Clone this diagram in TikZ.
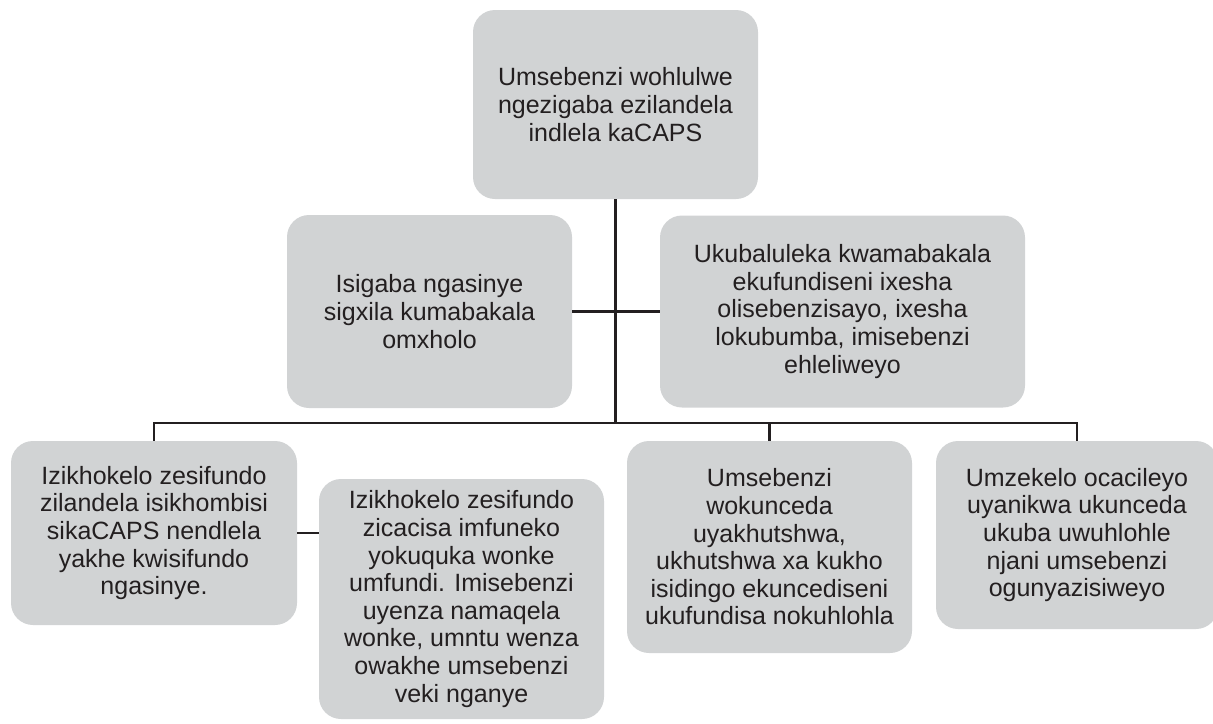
\documentclass[tikz,border=0pt]{standalone}
\usepackage{fontspec}
\setmainfont{Liberation Sans}
\definecolor{boxgray}{RGB}{209,211,212}
\definecolor{inkcol}{RGB}{35,31,32}
\tikzset{
  gbox/.style={rounded corners=22pt, fill=boxgray, inner sep=0pt, align=center,
    text=inkcol, font=\fontsize{25}{27.6}\selectfont,
    execute at begin node={\rule{0pt}{28pt}}},
  conn/.style={draw=inkcol, line width=2.6pt}
}
\begin{document}
\begin{tikzpicture}[x=1pt,y=-1pt]
\useasboundingbox (0,0) rectangle (1213,723);
\clip (0,0) rectangle (1213,723);
\node[gbox, minimum width=285pt, minimum height=189pt] (top) at (615.5,104.5)
  {Umsebenzi wohlulwe\\ngezigaba ezilandela\\indlela kaCAPS};
\node[gbox, minimum width=285pt, minimum height=193pt] (midL) at (429.5,311.5)
  {Isigaba ngasinye\\sigxila kumabakala\\omxholo};
\node[gbox, minimum width=365pt, minimum height=192pt] (midR) at (842.5,311.5)
  {Ukubaluleka kwamabakala\\ekufundiseni ixesha\\olisebenzisayo, ixesha\\lokubumba, imisebenzi\\ehleliweyo};
\node[gbox, minimum width=286pt, minimum height=184pt] (b1) at (154,533)
  {Izikhokelo zesifundo\\zilandela isikhombisi\\sikaCAPS nendlela\\yakhe kwisifundo\\ngasinye.};
\node[gbox, minimum width=285pt, minimum height=240pt] (b2) at (461.5,599)
  {Izikhokelo zesifundo\\zicacisa imfuneko\\yokuquka wonke\\umfundi. Imisebenzi\\uyenza namaqela\\wonke, umntu wenza\\owakhe umsebenzi\\veki nganye};
\node[gbox, minimum width=285pt, minimum height=212pt] (b3) at (769.5,547)
  {Umsebenzi\\wokunceda\\uyakhutshwa,\\ukhutshwa xa kukho\\isidingo ekuncediseni\\ukufundisa nokuhlohla};
\node[gbox, minimum width=282pt, minimum height=188pt] (b4) at (1077,535)
  {Umzekelo ocacileyo\\uyanikwa ukunceda\\ukuba uwuhlohle\\njani umsebenzi\\ogunyazisiweyo};
\coordinate (bus) at (154,423);
\draw[conn] (top.south) -- (top.south |- bus);
\draw[conn] (midL.east) -- (midR.west);
\draw[conn] (b1.north) -- (b1.north |- bus) -| (b4.north);
\draw[conn] (b3.north) -- (b3.north |- bus);
\draw[conn] (b1.east) -- (b1.east -| b2.west);
\end{tikzpicture}
\end{document}
